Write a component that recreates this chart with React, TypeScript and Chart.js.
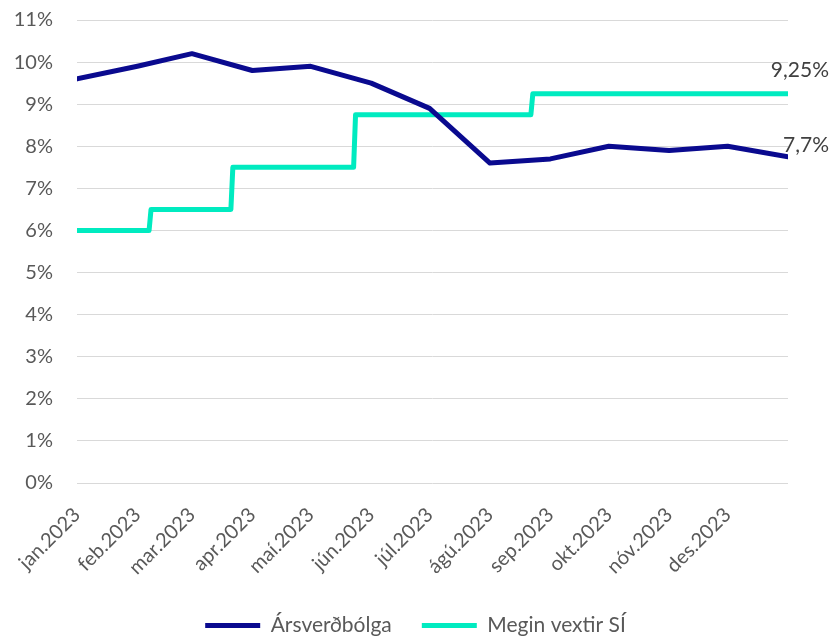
import React, { useEffect, useRef } from "react";
import { Chart, registerables } from "chart.js";

Chart.register(...registerables);

const monthLabels = ["jan.2023", "feb.2023", "mar.2023", "apr.2023", "maí.2023", "jún.2023", "júl.2023", "ágú.2023", "sep.2023", "okt.2023", "nóv.2023", "des.2023"];
const monthStartDays = [0, 31, 59, 90, 120, 151, 181, 212, 243, 273, 304, 334];

const inflationDays = [0, 31, 59, 90, 120, 151, 181, 212, 243, 273, 304, 334, 365];
const inflationValues = [9.6, 9.9, 10.2, 9.8, 9.9, 9.5, 8.9, 7.6, 7.7, 8.0, 7.9, 8.0, 7.75];

const rateDays = [0, 37, 38, 79, 80, 142, 143, 233, 234, 365];
const rateValues = [6.0, 6.0, 6.5, 6.5, 7.5, 7.5, 8.75, 8.75, 9.25, 9.25];

const yTicks = [0, 1, 2, 3, 4, 5, 6, 7, 8, 9, 10, 11];

const FONT = "Lato, 'Noto Sans', sans-serif";

const endLabelPlugin = {
  id: "endLabels",
  afterDatasetsDraw(chart: any) {
    const ctx = chart.ctx;
    const offsets = [12, 23];
    const labels = ["7,7%", "9,25%"];
    chart.data.datasets.forEach((ds: any, i: number) => {
      const meta = chart.getDatasetMeta(i);
      const pt = meta.data[meta.data.length - 1];
      if (!pt) return;
      ctx.save();
      ctx.font = `21px ${FONT}`;
      ctx.fillStyle = "#404040";
      ctx.textAlign = "right";
      ctx.textBaseline = "middle";
      ctx.fillText(labels[i], chart.width - 2, pt.y - offsets[i]);
      ctx.restore();
    });
  },
};

export default function App() {
  const ref = useRef<HTMLCanvasElement>(null);
  useEffect(() => {
    document.body.style.margin = "0";
    const chart = new Chart(ref.current!, {
      type: "line",
      data: {
        datasets: [
          {
            label: "Ársverðbólga",
            data: inflationDays.map((d, i) => ({ x: d, y: inflationValues[i] })),
            borderColor: "#0a0a8f",
            backgroundColor: "#0a0a8f",
            borderWidth: 5,
            borderCapStyle: "round",
            borderJoinStyle: "round",
            pointRadius: 0,
            tension: 0,
          },
          {
            label: "Megin vextir SÍ",
            data: rateDays.map((d, i) => ({ x: d, y: rateValues[i] })),
            borderColor: "#00ebc0",
            backgroundColor: "#00ebc0",
            borderWidth: 5,
            borderCapStyle: "round",
            borderJoinStyle: "round",
            pointRadius: 0,
            tension: 0,
          },
        ],
      },
      options: {
        animation: false,
        responsive: false,
        layout: { padding: { top: 20, right: 0, left: 0, bottom: -9 } },
        scales: {
          x: {
            type: "linear",
            min: 0,
            max: 365,
            grid: { display: false },
            border: { display: false },
            afterBuildTicks: (scale: any) => {
              scale.ticks = monthStartDays.map((v) => ({ value: v }));
            },
            afterFit: (scale: any) => {
              scale.height = 102;
              scale.paddingLeft = 0;
              scale.paddingRight = 0;
            },
            ticks: {
              minRotation: 45,
              maxRotation: 45,
              autoSkip: false,
              padding: 12,
              color: "#595959",
              font: { family: FONT, size: 20 },
              callback: (value: any) => {
                const idx = monthStartDays.indexOf(Number(value));
                return idx >= 0 ? monthLabels[idx] : "";
              },
            },
          },
          y: {
            min: 0,
            max: 11,
            grid: { color: "#d9d9d9", lineWidth: 1, drawTicks: false },
            border: { display: false },
            afterBuildTicks: (scale: any) => {
              scale.ticks = yTicks.map((v) => ({ value: v }));
            },
            afterFit: (scale: any) => {
              scale.width = 77;
              scale.paddingTop = 0;
              scale.paddingBottom = 0;
            },
            ticks: {
              padding: 24,
              color: "#595959",
              font: { family: FONT, size: 20 },
              callback: (value: any) => `${value}%`,
            },
          },
          yRight: {
            position: "right",
            min: 0,
            max: 11,
            grid: { display: false },
            border: { display: false },
            ticks: { display: false },
            afterFit: (scale: any) => {
              scale.width = 43;
              scale.paddingTop = 0;
              scale.paddingBottom = 0;
            },
          },
        },
        plugins: {
          legend: {
            position: "bottom",
            labels: {
              usePointStyle: true,
              pointStyle: "line",
              pointStyleWidth: 55,
              color: "#595959",
              font: { family: FONT, size: 21 },
              padding: 30,
            },
          },
          tooltip: { enabled: false },
        },
      },
      plugins: [endLabelPlugin],
    } as any);
    return () => chart.destroy();
  }, []);
  return (
    <div style={{ width: 831, height: 637 }}>
      <canvas ref={ref} width={831} height={637} style={{ width: 831, height: 637, display: "block" }} />
    </div>
  );
}
